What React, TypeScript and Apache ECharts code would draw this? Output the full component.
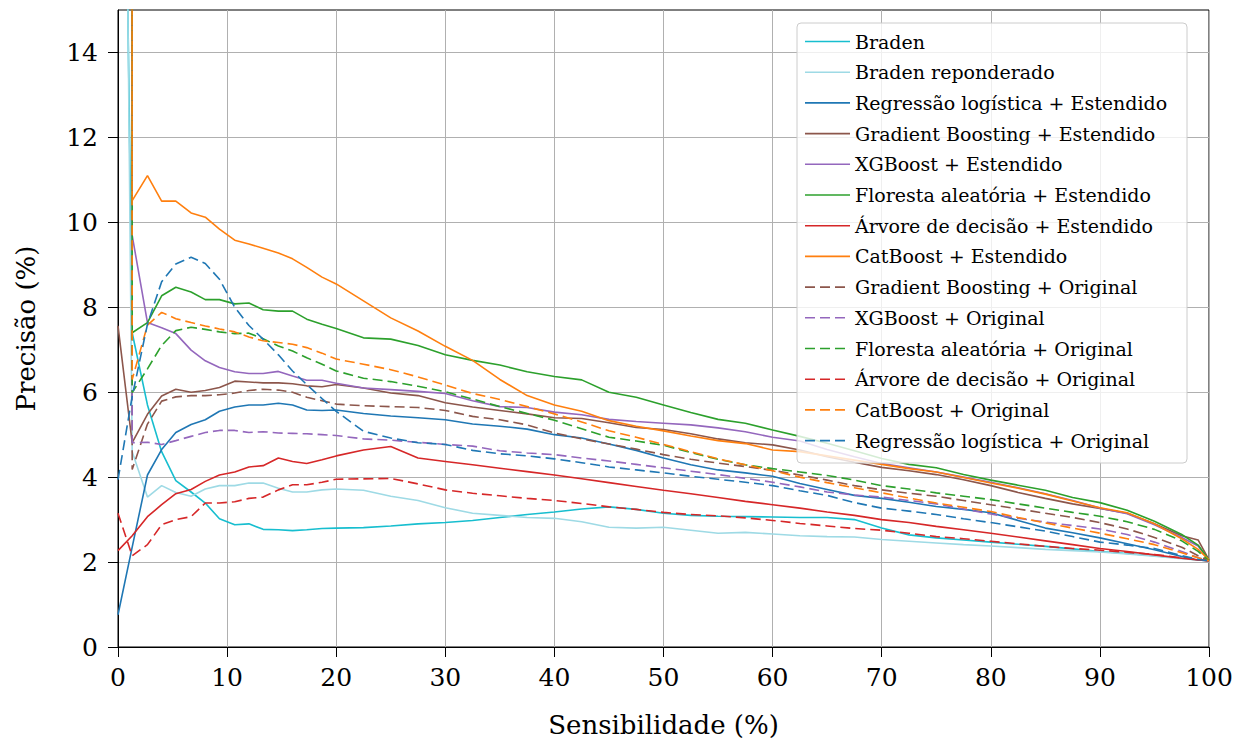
import React, { useEffect, useRef } from "react";
import * as echarts from "echarts";

// Sensitivity (%) grid shared by every curve
const SENS = [
  1.3, 2.7, 4, 5.3, 6.7, 8, 9.3, 10.7, 12, 13.3, 14.7, 16, 17.3, 18.7, 20,
  22.5, 25, 27.5, 30, 32.5, 35, 37.5, 40, 42.5, 45, 47.5, 50,
  52.5, 55, 57.5, 60, 62.5, 65, 67.5, 70, 72.5, 75, 77.5, 80,
  82.5, 85, 87.5, 90, 92.5, 95, 97.5, 99, 100,
];

const X_TICKS = [0, 10, 20, 30, 40, 50, 60, 70, 80, 90, 100];
const Y_TICKS = [0, 2, 4, 6, 8, 10, 12, 14];

// leading points (before the shared grid) — [sensibilidade, precisão]
const BRADEN_LEAD = [[0.8, 17]];
const BRADEN_REP_LEAD = [[0.85, 16.5]];
const RL_EST_LEAD = [[0, 0.76]];
const GB_EST_LEAD = [[0, 7.56]];
const XGB_EST_LEAD = [[1.1, 100]];
const RF_EST_LEAD = [[1.2, 100]];
const DT_EST_LEAD = [[0, 2.27]];
const CAT_EST_LEAD = [[1.15, 100]];
const GB_ORIG_LEAD = [[1.1, 100]];
const XGB_ORIG_LEAD = [[1.1, 100]];
const RF_ORIG_LEAD = [[1.2, 100]];
const DT_ORIG_LEAD = [[0, 3.15]];
const CAT_ORIG_LEAD = [[1.15, 100]];
const RL_ORIG_LEAD = [[0, 3.94]];

const BRADEN = [
  7.4, 5.7, 4.6, 3.92, 3.65, 3.39, 3.02, 2.88, 2.9, 2.77, 2.76, 2.74, 2.76, 2.79, 2.8,
  2.81, 2.85, 2.9, 2.93, 2.98, 3.05, 3.12, 3.18, 3.25, 3.3, 3.24, 3.15,
  3.1, 3.08, 3.07, 3.06, 3.05, 3.05, 3.0, 2.8, 2.64, 2.57, 2.52, 2.47,
  2.42, 2.37, 2.31, 2.25, 2.2, 2.15, 2.09, 2.05, 2.03,
];
const BRADEN_REP = [
  4.6, 3.53, 3.8, 3.64, 3.55, 3.72, 3.8, 3.8, 3.86, 3.86, 3.74, 3.65, 3.65, 3.7, 3.72,
  3.69, 3.55, 3.45, 3.28, 3.15, 3.1, 3.05, 3.03, 2.95, 2.82, 2.8, 2.82,
  2.75, 2.68, 2.7, 2.66, 2.62, 2.6, 2.59, 2.53, 2.49, 2.45, 2.41, 2.38,
  2.34, 2.3, 2.27, 2.24, 2.19, 2.14, 2.08, 2.05, 2.03,
];
const RL_EST = [
  2.35, 4.05, 4.65, 5.05, 5.24, 5.35, 5.55, 5.65, 5.7, 5.7, 5.74, 5.7, 5.58, 5.57, 5.58,
  5.5, 5.44, 5.4, 5.35, 5.25, 5.2, 5.13, 5.0, 4.92, 4.78, 4.63, 4.45,
  4.29, 4.17, 4.1, 4.02, 3.85, 3.71, 3.57, 3.5, 3.41, 3.31, 3.24, 3.16,
  2.98, 2.8, 2.69, 2.57, 2.43, 2.29, 2.13, 2.05, 2.03,
];
const GB_EST = [
  4.81, 5.48, 5.91, 6.07, 6.0, 6.04, 6.11, 6.26, 6.24, 6.22, 6.22, 6.2, 6.15, 6.13, 6.18,
  6.1, 5.98, 5.92, 5.75, 5.65, 5.57, 5.49, 5.4, 5.38, 5.28, 5.17, 5.12,
  5.02, 4.9, 4.81, 4.76, 4.64, 4.48, 4.35, 4.23, 4.15, 4.06, 3.94, 3.8,
  3.64, 3.5, 3.37, 3.26, 3.15, 2.9, 2.62, 2.52, 2.05,
];
const XGB_EST = [
  9.69, 7.64, 7.52, 7.38, 6.99, 6.74, 6.58, 6.48, 6.44, 6.44, 6.49, 6.38, 6.28, 6.28, 6.21,
  6.1, 6.06, 6.02, 5.97, 5.8, 5.66, 5.64, 5.53, 5.47, 5.36, 5.31, 5.27,
  5.23, 5.16, 5.07, 4.94, 4.85, 4.65, 4.48, 4.32, 4.22, 4.12, 4.0, 3.88,
  3.75, 3.61, 3.45, 3.27, 3.14, 2.88, 2.58, 2.38, 2.05,
];
const RF_EST = [
  7.4, 7.64, 8.27, 8.47, 8.36, 8.18, 8.18, 8.08, 8.1, 7.94, 7.91, 7.91, 7.72, 7.6, 7.5,
  7.28, 7.25, 7.1, 6.88, 6.75, 6.64, 6.48, 6.37, 6.29, 6.0, 5.88, 5.7,
  5.52, 5.36, 5.27, 5.11, 4.96, 4.8, 4.62, 4.44, 4.3, 4.22, 4.06, 3.93,
  3.81, 3.69, 3.52, 3.4, 3.22, 2.96, 2.65, 2.4, 2.05,
];
const DT_EST = [
  2.62, 3.07, 3.35, 3.61, 3.71, 3.9, 4.05, 4.12, 4.24, 4.27, 4.45, 4.37, 4.32, 4.41, 4.5,
  4.64, 4.72, 4.45, 4.37, 4.29, 4.21, 4.13, 4.05, 3.96, 3.87, 3.78, 3.69,
  3.61, 3.52, 3.43, 3.35, 3.27, 3.18, 3.1, 3.0, 2.93, 2.84, 2.76, 2.68,
  2.59, 2.5, 2.41, 2.32, 2.25, 2.17, 2.09, 2.05, 2.03,
];
const CAT_EST = [
  10.51, 11.1, 10.5, 10.5, 10.22, 10.12, 9.84, 9.58, 9.49, 9.39, 9.28, 9.14, 8.94, 8.71, 8.55,
  8.15, 7.75, 7.44, 7.08, 6.75, 6.3, 5.92, 5.7, 5.55, 5.33, 5.2, 5.09,
  4.97, 4.86, 4.79, 4.64, 4.6, 4.5, 4.4, 4.3, 4.2, 4.12, 3.99, 3.86,
  3.74, 3.6, 3.44, 3.28, 3.16, 2.9, 2.55, 2.3, 2.05,
];
const GB_ORIG = [
  4.18, 5.25, 5.79, 5.89, 5.92, 5.92, 5.94, 5.98, 6.04, 6.07, 6.05, 6.0, 5.88, 5.8, 5.72,
  5.68, 5.66, 5.64, 5.57, 5.43, 5.35, 5.23, 5.04, 4.9, 4.78, 4.66, 4.53,
  4.42, 4.33, 4.25, 4.16, 4.05, 3.93, 3.8, 3.7, 3.62, 3.55, 3.45, 3.35,
  3.25, 3.15, 3.05, 2.93, 2.78, 2.58, 2.35, 2.15, 2.03,
];
const XGB_ORIG = [
  4.81, 4.82, 4.77, 4.86, 4.96, 5.05, 5.1, 5.1, 5.05, 5.07, 5.04, 5.03, 5.02, 5.0, 4.98,
  4.9, 4.87, 4.82, 4.77, 4.73, 4.62, 4.57, 4.53, 4.45, 4.38, 4.3, 4.22,
  4.14, 4.06, 3.97, 3.88, 3.77, 3.65, 3.58, 3.53, 3.45, 3.37, 3.25, 3.13,
  3.03, 2.94, 2.86, 2.78, 2.65, 2.47, 2.25, 2.1, 2.03,
];
const RF_ORIG = [
  5.99, 6.55, 7.1, 7.45, 7.53, 7.48, 7.42, 7.38, 7.39, 7.26, 7.09, 6.97, 6.81, 6.66, 6.5,
  6.33, 6.25, 6.14, 6.01, 5.84, 5.66, 5.5, 5.34, 5.14, 4.94, 4.85, 4.75,
  4.58, 4.42, 4.29, 4.2, 4.12, 4.04, 3.93, 3.8, 3.72, 3.63, 3.55, 3.47,
  3.37, 3.27, 3.17, 3.08, 2.95, 2.77, 2.5, 2.25, 2.03,
];
const DT_ORIG = [
  2.15, 2.41, 2.88, 3.0, 3.07, 3.39, 3.39, 3.42, 3.5, 3.53, 3.7, 3.82, 3.82, 3.88, 3.95,
  3.96, 3.97, 3.84, 3.7, 3.62, 3.56, 3.5, 3.45, 3.38, 3.3, 3.24, 3.17,
  3.12, 3.09, 3.04, 2.98, 2.91, 2.85, 2.79, 2.75, 2.68, 2.6, 2.55, 2.49,
  2.43, 2.37, 2.32, 2.28, 2.23, 2.18, 2.1, 2.06, 2.03,
];
const CAT_ORIG = [
  6.3, 7.58, 7.88, 7.73, 7.64, 7.56, 7.49, 7.42, 7.3, 7.21, 7.17, 7.13, 7.05, 6.92, 6.78,
  6.66, 6.53, 6.36, 6.17, 5.97, 5.83, 5.66, 5.49, 5.3, 5.09, 4.94, 4.77,
  4.6, 4.43, 4.29, 4.15, 4.0, 3.87, 3.75, 3.63, 3.51, 3.39, 3.29, 3.19,
  3.05, 2.92, 2.8, 2.68, 2.55, 2.41, 2.22, 2.1, 2.03,
];
const RL_ORIG = [
  5.9, 7.6, 8.6, 9.02, 9.18, 9.03, 8.66, 8.0, 7.57, 7.25, 6.88, 6.5, 6.18, 5.85, 5.55,
  5.08, 4.92, 4.81, 4.77, 4.63, 4.55, 4.5, 4.43, 4.34, 4.24, 4.17, 4.1,
  4.02, 3.95, 3.88, 3.8, 3.68, 3.57, 3.4, 3.27, 3.2, 3.12, 3.02, 2.93,
  2.83, 2.73, 2.6, 2.47, 2.4, 2.32, 2.15, 2.06, 2.03,
];

const C = {
  braden: "#17becf",
  bradenRep: "#9edae5",
  rl: "#1f77b4",
  gb: "#8c564b",
  xgb: "#9467bd",
  rf: "#2ca02c",
  dt: "#d62728",
  cat: "#ff7f0e",
};

const SERIES_DEFS = [
  { name: "Braden", lead: BRADEN_LEAD, vals: BRADEN, color: C.braden, dashed: false },
  { name: "Braden reponderado", lead: BRADEN_REP_LEAD, vals: BRADEN_REP, color: C.bradenRep, dashed: false },
  { name: "Regressão logística + Estendido", lead: RL_EST_LEAD, vals: RL_EST, color: C.rl, dashed: false },
  { name: "Gradient Boosting + Estendido", lead: GB_EST_LEAD, vals: GB_EST, color: C.gb, dashed: false },
  { name: "XGBoost + Estendido", lead: XGB_EST_LEAD, vals: XGB_EST, color: C.xgb, dashed: false },
  { name: "Floresta aleatória + Estendido", lead: RF_EST_LEAD, vals: RF_EST, color: C.rf, dashed: false },
  { name: "Árvore de decisão + Estendido", lead: DT_EST_LEAD, vals: DT_EST, color: C.dt, dashed: false },
  { name: "CatBoost + Estendido", lead: CAT_EST_LEAD, vals: CAT_EST, color: C.cat, dashed: false },
  { name: "Gradient Boosting + Original", lead: GB_ORIG_LEAD, vals: GB_ORIG, color: C.gb, dashed: true },
  { name: "XGBoost + Original", lead: XGB_ORIG_LEAD, vals: XGB_ORIG, color: C.xgb, dashed: true },
  { name: "Floresta aleatória + Original", lead: RF_ORIG_LEAD, vals: RF_ORIG, color: C.rf, dashed: true },
  { name: "Árvore de decisão + Original", lead: DT_ORIG_LEAD, vals: DT_ORIG, color: C.dt, dashed: true },
  { name: "CatBoost + Original", lead: CAT_ORIG_LEAD, vals: CAT_ORIG, color: C.cat, dashed: true },
  { name: "Regressão logística + Original", lead: RL_ORIG_LEAD, vals: RL_ORIG, color: C.rl, dashed: true },
];

const FONT = "DejaVu Serif, serif";

const SOLID_ICON = "path://M0,0H45V1.6H0Z";
const DASH_ICON =
  "path://M0,0H10V1.6H0Z M15,0H25V1.6H15Z M30,0H40V1.6H30Z M44.95,0H45V1.6H44.95Z";

export default function App() {
  const ref = useRef<HTMLDivElement>(null);

  useEffect(() => {
    if (!ref.current) return;
    const chart = echarts.init(ref.current, undefined, { renderer: "svg" });

    const series = SERIES_DEFS.map((d) => ({
      name: d.name,
      type: "line",
      data: [...d.lead, ...SENS.map((x, i) => [x, d.vals[i]])],
      showSymbol: false,
      symbol: "none",
      clip: true,
      itemStyle: { color: d.color },
      lineStyle: {
        color: d.color,
        width: 1.6,
        type: d.dashed ? [10, 5] : "solid",
      },
      emphasis: { disabled: true },
      z: 2,
    }));

    chart.setOption({
      animation: false,
      textStyle: { fontFamily: FONT },
      grid: {
        left: 118,
        top: 10,
        width: 1091,
        height: 637,
        show: true,
        borderColor: "#000",
        borderWidth: 1,
        backgroundColor: "transparent",
      },
      xAxis: {
        type: "value",
        min: 0,
        max: 100,
        interval: 10,
        name: "Sensibilidade (%)",
        nameLocation: "middle",
        nameGap: 65,
        nameTextStyle: { fontFamily: FONT, fontSize: 26, color: "#000" },
        axisLine: { show: true, lineStyle: { color: "#000", width: 1 } },
        axisTick: { show: true, inside: false, length: 10, lineStyle: { color: "#000", width: 1 }, customValues: X_TICKS },
        axisLabel: { fontFamily: FONT, fontSize: 25, color: "#000", margin: 18, customValues: X_TICKS },
        splitLine: { show: true, lineStyle: { color: "#b0b0b0", width: 1 } },
      },
      yAxis: {
        type: "value",
        min: 0,
        max: 15,
        interval: 2,
        name: "Precisão (%)",
        nameLocation: "middle",
        nameGap: 79,
        nameRotate: 90,
        nameTextStyle: { fontFamily: FONT, fontSize: 26, color: "#000" },
        axisLine: { show: true, lineStyle: { color: "#000", width: 1 } },
        axisTick: { show: true, inside: false, length: 10, lineStyle: { color: "#000", width: 1 }, customValues: Y_TICKS },
        axisLabel: {
          fontFamily: FONT,
          fontSize: 25,
          color: "#000",
          margin: 20,
          customValues: Y_TICKS,
          formatter: (v: number) => (v === 15 ? "" : String(v)),
        },
        splitLine: { show: true, lineStyle: { color: "#b0b0b0", width: 1 } },
      },
      legend: {
        orient: "vertical",
        left: 805,
        top: 31,
        padding: 0,
        itemWidth: 45,
        itemHeight: 20,
        itemGap: 9.7,
        backgroundColor: "transparent",
        borderWidth: 0,
        selectedMode: false,
        textStyle: { fontFamily: FONT, fontSize: 19, color: "#000", lineHeight: 21 },
        data: SERIES_DEFS.map((d) => ({
          name: d.name,
          icon: d.dashed ? DASH_ICON : SOLID_ICON,
          itemStyle: { color: d.color },
        })),
        z: 5,
      },
      graphic: {
        elements: [
          {
            type: "rect",
            z: 3,
            silent: true,
            shape: { x: 797, y: 23, width: 390, height: 440, r: 4 },
            style: { fill: "rgba(255,255,255,0.8)", stroke: "#cccccc", lineWidth: 1 },
          },
        ],
      },
      series,
    });

    return () => chart.dispose();
  }, []);

  return (
    <div
      ref={ref}
      style={{ position: "absolute", left: 0, top: 0, width: 1241, height: 745 }}
    />
  );
}
